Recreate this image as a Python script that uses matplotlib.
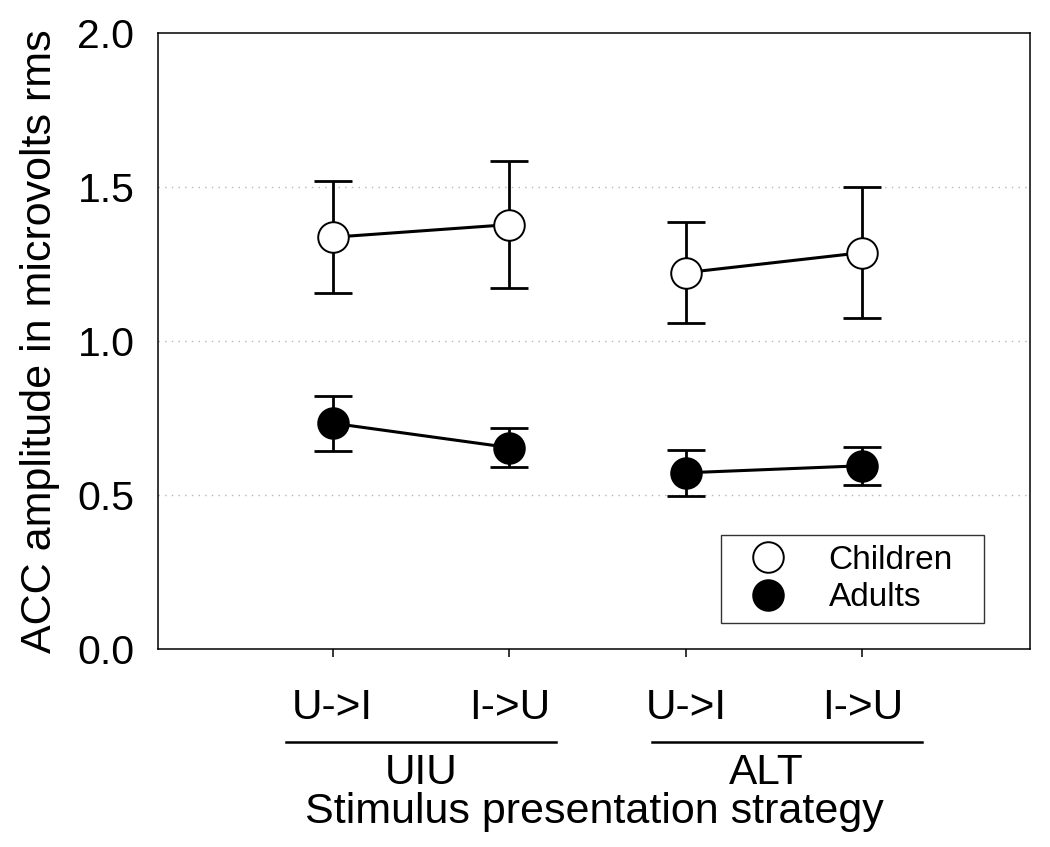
import matplotlib
matplotlib.use("Agg")
import matplotlib.pyplot as plt  # noqa: E402
import matplotlib.transforms as mtransforms  # noqa: E402

plt.rcParams["font.family"] = ["Liberation Sans", "DejaVu Sans"]

# data
conditions = ["U->I", "I->U", "U->I", "I->U"]
groups = ["UIU", "ALT"]
children_mean = [1.337, 1.378, 1.222, 1.287]
children_err = [0.181, 0.205, 0.163, 0.212]
adults_mean = [0.733, 0.654, 0.572, 0.595]
adults_err = [0.090, 0.064, 0.075, 0.061]

xpos = [1, 2, 3, 4]
group_spans = [(0.737, 2.265), (2.811, 4.339)]
group_label_x = [1.5, 3.456]

fig = plt.figure(figsize=(10.5, 8.47), dpi=100)
ax = fig.add_axes([0.1505, 0.2338, 0.8305, 0.7272])

MS = 22
for mean, err, face, lab in ((children_mean, children_err, "white", "Children"),
                             (adults_mean, adults_err, "black", "Adults")):
    for k in range(2):
        sl = slice(2 * k, 2 * k + 2)
        ax.errorbar(xpos[sl], mean[sl], yerr=err[sl], fmt="none",
                    ecolor="black", elinewidth=2.0, capsize=13.7,
                    capthick=2.0, zorder=2)
        ax.plot(xpos[sl], mean[sl], "-", color="black", lw=2.2, zorder=3)
        ax.plot(xpos[sl], mean[sl], "o", ms=MS, mfc=face, mec="black",
                mew=1.4, zorder=4, label=lab if k == 0 else None)

ax.set_xlim(0.01, 4.95)
ax.set_ylim(0, 2.0)
ax.set_yticks([0.0, 0.5, 1.0, 1.5, 2.0])
ax.set_yticklabels(["0.0", "0.5", "1.0", "1.5", "2.0"])
ax.set_xticks(xpos)
ax.set_xticklabels(conditions)
ax.tick_params(axis="y", length=0, pad=17, labelsize=29.5)
ax.tick_params(axis="x", direction="out", length=5.8, width=1.1, pad=22,
               labelsize=30.5)
for yv in (0.5, 1.0, 1.5):
    ax.axhline(yv, color="#b5b5b5", lw=1.0, ls=(0, (1, 3.8)), zorder=0)
for s in ax.spines.values():
    s.set_linewidth(1.1)

ax.set_ylabel("ACC amplitude in microvolts rms", fontsize=31)
ax.yaxis.set_label_coords(-0.112, 0.5)

trans = mtransforms.blended_transform_factory(ax.transData, ax.transAxes)
for (x0, x1), gx, g in zip(group_spans, group_label_x, groups):
    ax.plot([x0, x1], [-0.1515, -0.1515], color="black", lw=1.8,
            transform=trans, clip_on=False)
    ax.text(gx, -0.219, g, transform=trans, ha="center",
            va="baseline", fontsize=30.5)
ax.text(0.5, -0.2825, "Stimulus presentation strategy",
        transform=ax.transAxes, ha="center", va="baseline", fontsize=31)

leg = ax.legend(loc="lower left", bbox_to_anchor=(0.6453, 0.0417, 0.302, 0.15),
                mode="expand", borderaxespad=0, fontsize=24, frameon=True,
                fancybox=False, edgecolor="black", handlelength=2.26,
                handletextpad=0.68, borderpad=0.3, labelspacing=0.2)
leg.get_frame().set_linewidth(1.0)

fig.savefig("out.png", dpi=100)
